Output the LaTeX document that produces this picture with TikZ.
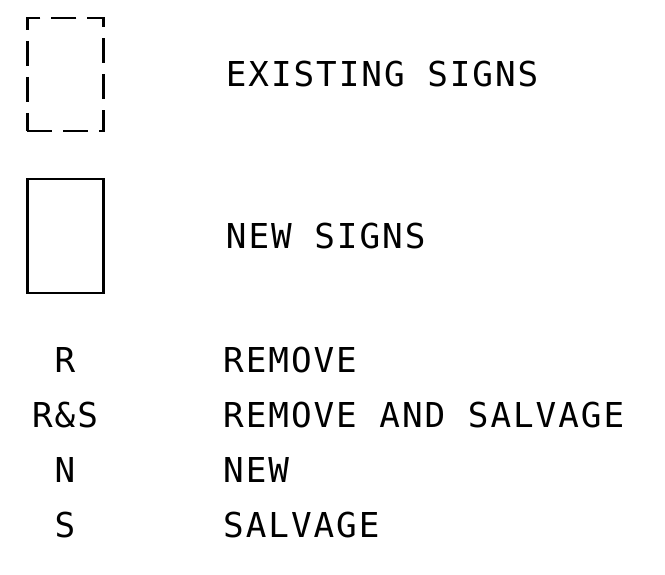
\documentclass[tikz,border=0pt]{standalone}
\usepackage{fontspec}
\usetikzlibrary{positioning}
\newfontfamily\cadfont[LetterSpace=5.7]{DejaVu Sans Mono}
\newcommand{\legendfont}{\cadfont\fontsize{34.3}{40}\selectfont}

\begin{document}
\begin{tikzpicture}[x=1pt, y=-1pt,
    signbox/.style={rectangle, draw=black, line width=2.4pt,
                    minimum width=76pt, minimum height=#1, inner sep=0pt},
    oldsign/.style={signbox=113pt, dash pattern=on 25pt off 11pt, dash phase=0pt},
    newsign/.style={signbox=114pt},
    legtext/.style={inner sep=0pt, font=\legendfont},
    abbr/.style={anchor=base, inner sep=0pt, font=\legendfont},
    meaning/.style={anchor=base west, inner sep=0pt, font=\legendfont},
]
\useasboundingbox (0,0) rectangle (665,575);

% sign symbols
\node[oldsign] (oldbox) at (65.4, 74.5) {};
\node[newsign] (newbox) at (65.5, 236) {};
\node[legtext, right=121pt of oldbox] (oldtext) {EXISTING SIGNS};
\node[legtext, right=121pt of newbox] (newtext) {NEW SIGNS};

% abbreviations
\node[abbr] (rem)   at (65, 372) {R};
\node[abbr] (remsv) at (65, 427) {R\&S};
\node[abbr] (new)   at (65, 482) {N};
\node[abbr] (sal)   at (65, 537) {S};
\node[meaning] (remtext)   at (223, 372) {REMOVE};
\node[meaning] (remsvtext) at (223, 427) {REMOVE AND SALVAGE};
\node[meaning] (newmtext)  at (223, 482) {NEW};
\node[meaning] (saltext)   at (223, 537) {SALVAGE};
\end{tikzpicture}
\end{document}
